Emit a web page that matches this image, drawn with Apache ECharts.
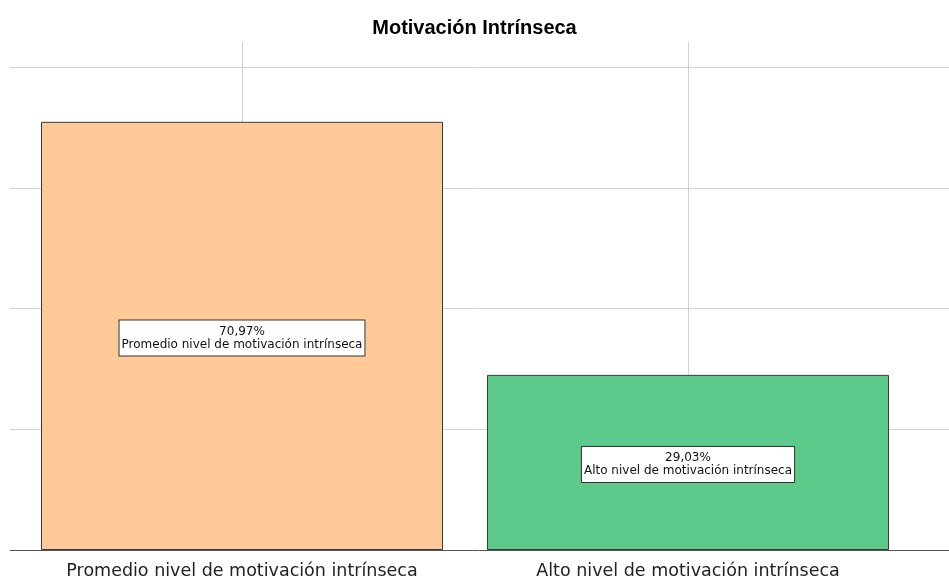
<!DOCTYPE html>
<html>
<head>
<meta charset="utf-8">
<script src="https://cdn.jsdelivr.net/npm/echarts@6/dist/echarts.min.js"></script>
<style>
  html, body { margin: 0; padding: 0; background: #fff; }
  #chart { width: 949px; height: 581px; }
</style>
</head>
<body>
<div id="chart"></div>
<script>
// datos
var categorias = ['Promedio nivel de motivación intrínseca', 'Alto nivel de motivación intrínseca'];
var porcentajes = [70.97, 29.03];
var colores = ['#FFCA98', '#5DCA8B'];
var yMax = 84.2;

var chart = echarts.init(document.getElementById('chart'));

function fmt(v) {
  return v.toFixed(2).replace('.', ',') + '%';
}

chart.setOption({
  animation: false,
  title: {
    text: 'Motivación Intrínseca',
    left: 'center',
    top: 13,
    textStyle: { fontFamily: 'Liberation Sans', fontSize: 20, fontWeight: 'bold', color: '#000' }
  },
  grid: [
    // grid ancho: lineas horizontales y eje
    { left: 10, right: 0, top: 42, bottom: 31 },
    // grid de las barras
    { left: 19, right: 38, top: 42, bottom: 31 }
  ],
  xAxis: [
    {
      gridIndex: 0, type: 'value', min: 0, max: 1,
      axisLine: { show: true, lineStyle: { color: '#555', width: 1 } },
      axisTick: { show: false }, axisLabel: { show: false }, splitLine: { show: false }
    },
    {
      gridIndex: 1, type: 'category', data: categorias,
      axisLine: { show: false }, axisTick: { show: false },
      axisLabel: { interval: 0, hideOverlap: false, fontFamily: 'DejaVu Sans', fontSize: 17.5, color: '#222', margin: 12 },
      splitLine: { show: true, interval: 0, alignWithLabel: true, lineStyle: { color: '#d2d2d2', width: 1 } }
    }
  ],
  yAxis: [
    {
      gridIndex: 0, type: 'value', min: 0, max: yMax, interval: 20,
      axisLine: { show: false }, axisTick: { show: false }, axisLabel: { show: false },
      splitLine: { show: true, showMinLine: false, showMaxLine: false, lineStyle: { color: '#d2d2d2', width: 1 } }
    },
    {
      gridIndex: 1, type: 'value', min: 0, max: yMax,
      show: false, splitLine: { show: false }
    }
  ],
  series: [{
    type: 'bar',
    xAxisIndex: 1,
    yAxisIndex: 1,
    barWidth: 402,
    data: porcentajes.map(function (v, i) {
      return { value: v, itemStyle: { color: colores[i] } };
    }),
    itemStyle: { borderColor: '#3a3a3a', borderWidth: 1 },
    label: {
      show: true,
      position: 'inside',
      offset: [0, 2],
      formatter: function (p) { return fmt(p.value) + '\n' + p.name; },
      fontFamily: 'DejaVu Sans',
      fontSize: 12,
      lineHeight: 13,
      color: '#111',
      backgroundColor: '#fff',
      borderColor: '#333',
      borderWidth: 1,
      padding: [5, 2, 4, 2]
    }
  }]
});
</script>
</body>
</html>
